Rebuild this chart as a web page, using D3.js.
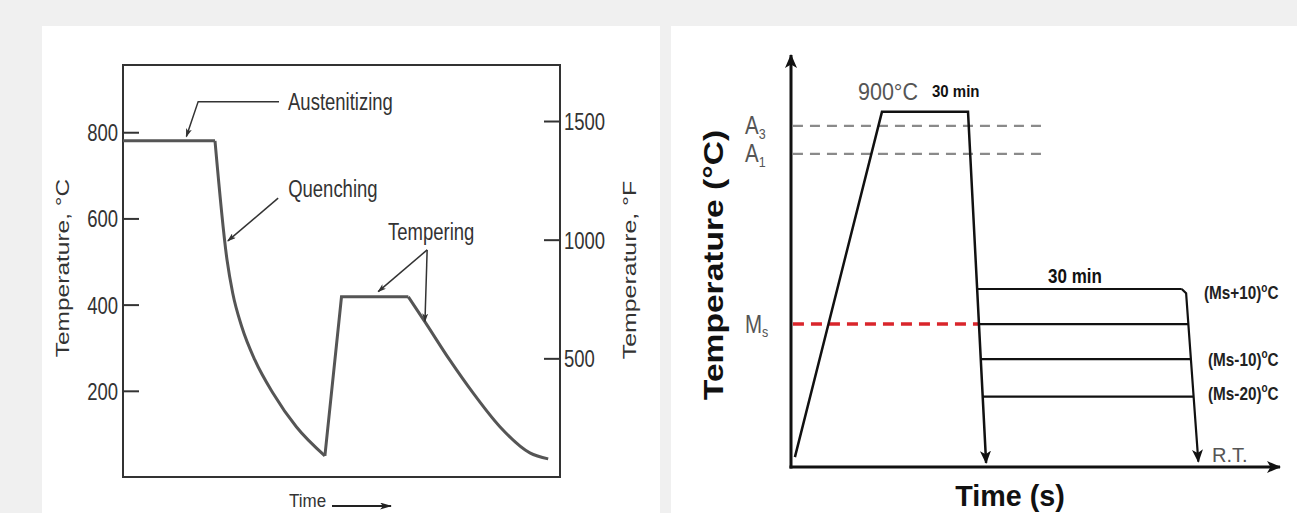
<!DOCTYPE html>
<html lang="en">
<head>
<meta charset="UTF-8">
<title>Heat treatment cycles</title>
<script src="https://cdn.jsdelivr.net/npm/d3@7"></script>
<style>
    body { margin: 0; background: #f0f0f0; overflow: hidden; }
    svg { display: block; }
    text { font-family: "Liberation Sans", Arial, sans-serif; }
</style>
</head>
<body>
<div id="chart-space"></div>

<script>
    // ---- left panel: quench + temper cycle (time in arbitrary units, temperature in °C)
    var tickC = [200, 400, 600, 800];
    var tickF = [500, 1000, 1500];
    var austHold = [[0, 780], [21.05, 780]];
    var quenchCool = [[21.05, 780], [23.8, 504], [25.1, 427], [27.2, 348], [30.2, 271], [34.3, 195], [39.7, 116], [46.2, 49]];
    var temperHold = [[46.2, 49], [50.0, 418], [65.3, 418]];
    var temperCool = [[65.3, 418], [69.1, 360], [74.8, 271], [80.1, 195], [86.3, 116], [93.1, 56], [97.3, 42]];

    // leader lines for the step labels (same data units)
    var ausLeader = [[35.7, 871], [17.2, 871], [14.5, 790]];
    var quenchLeader = [[35.5, 647], [24.0, 548]];
    var temperLeaders = [[[69.6, 527], [58.4, 430]], [[69.6, 527], [69.1, 361]]];

    // ---- right panel: quench into salt bath, schematic levels 0..100
    var critNames = ["A", "A", "M"];
    var critSubs = ["3", "1", "s"];
    var critLevel = [82.8, 76.0, 34.7];
    var heatCycle = [[0.8, 2.4], [18.6, 86.2], [36.2, 86.2], [39.9, 1.0]];
    var isoLevel = [43.2, 34.7, 26.2, 17.1];
    var isoText = ["(Ms+10)", "", "(Ms-10)", "(Ms-20)"];
    var finalCool = [[80.8, 42.2], [83.3, 1.3]];

    var W = 1297, H = 513;

    var svg = d3.select("#chart-space")
        .append("svg")
        .attr("width", W)
        .attr("height", H);

    svg.append("rect").attr("width", W).attr("height", H).attr("fill", "#f0f0f0");
    svg.append("rect").attr("x", 42).attr("y", 26).attr("width", 618).attr("height", 500).attr("fill", "#fff");
    svg.append("rect").attr("x", 671).attr("y", 26).attr("width", 626).attr("height", 500).attr("fill", "#fff");

    var defs = svg.append("defs");
    function marker(id, w, h, fill) {
        defs.append("marker")
            .attr("id", id)
            .attr("viewBox", "0 0 " + w + " " + h)
            .attr("refX", w - 1).attr("refY", h / 2)
            .attr("markerWidth", w).attr("markerHeight", h)
            .attr("markerUnits", "userSpaceOnUse")
            .attr("orient", "auto")
            .append("path")
            .attr("d", "M0,0L" + w + "," + h / 2 + "L0," + h + "L" + (w * 0.25) + "," + h / 2 + "Z")
            .attr("fill", fill);
    }
    marker("arrSmall", 9, 6, "#333");
    marker("arrTime", 12, 7, "#222");
    marker("arrAxis", 14, 12, "#111");
    marker("arrDown", 13, 11, "#111");

    // stretched text helper (the source picture is squeezed horizontally)
    function label(g, x, y, str, o) {
        var tr = "translate(" + x + "," + y + ")" + (o.rot ? " rotate(-90)" : "") +
            " scale(" + (o.sx || 1) + "," + (o.sy || 1) + ")";
        return g.append("text")
            .attr("transform", tr)
            .attr("font-size", o.size)
            .attr("font-weight", o.bold ? "bold" : null)
            .attr("fill", o.fill || "#333")
            .attr("text-anchor", o.anchor || "start")
            .text(str);
    }

    // ================= LEFT PANEL =================
    var left = svg.append("g");
    var xL = d3.scaleLinear().domain([0, 100]).range([123, 560]);
    var yC = d3.scaleLinear().domain([0, 956]).range([477, 65]);
    var yF = d3.scaleLinear().domain([0, 1736]).range([477, 65]);

    function styleAxis(g, sy) {
        g.select(".domain").remove();
        g.attr("font-family", null).attr("font-size", 18.5).attr("color", "#333");
        g.selectAll("line").attr("stroke-width", 2);
        g.selectAll("text").attr("dy", "0.36em").attr("transform", "scale(1," + sy + ")");
    }

    left.append("g")
        .attr("transform", "translate(" + xL(0) + ",0)")
        .call(d3.axisLeft(yC).tickValues(tickC).tickFormat(d3.format("d"))
            .tickSizeInner(-16).tickSizeOuter(0).tickPadding(5))
        .call(styleAxis, 1.27);

    left.append("g")
        .attr("transform", "translate(" + xL(100) + ",0)")
        .call(d3.axisRight(yF).tickValues(tickF).tickFormat(d3.format("d"))
            .tickSizeInner(-16).tickSizeOuter(0).tickPadding(4))
        .call(styleAxis, 1.27);

    left.append("rect")
        .attr("x", xL(0)).attr("y", yC(956))
        .attr("width", xL(100) - xL(0)).attr("height", yC(0) - yC(956))
        .attr("fill", "none").attr("stroke", "#333").attr("stroke-width", 2);

    var lineL = d3.line().x(function(d) { return xL(d[0]); }).y(function(d) { return yC(d[1]); });
    var curveL = d3.line().x(function(d) { return xL(d[0]); }).y(function(d) { return yC(d[1]); }).curve(d3.curveMonotoneX);

    [[austHold, lineL], [quenchCool, curveL], [temperHold, lineL], [temperCool, curveL]].forEach(function(s) {
        left.append("path")
            .attr("d", s[1](s[0]))
            .attr("fill", "none")
            .attr("stroke", "#555")
            .attr("stroke-width", 3)
            .attr("stroke-linejoin", "miter");
    });

    // leaders
    [ausLeader, quenchLeader, temperLeaders[0], temperLeaders[1]].forEach(function(l) {
        left.append("path")
            .attr("d", lineL(l))
            .attr("fill", "none")
            .attr("stroke", "#333")
            .attr("stroke-width", 1.5)
            .attr("marker-end", "url(#arrSmall)");
    });

    label(left, xL(ausLeader[0][0]) + 9, yC(ausLeader[0][1]) + 8.5, "Austenitizing", { size: 18.5, sy: 1.32 });
    label(left, xL(quenchLeader[0][0]) + 10, yC(quenchLeader[0][1]) - 1, "Quenching", { size: 18.5, sy: 1.32 });
    label(left, xL(temperLeaders[0][0][0]) + 4, yC(temperLeaders[0][0][1]) - 10, "Tempering", { size: 18.5, sy: 1.32, anchor: "middle" });

    label(left, 69, 268, "Temperature, °C", { size: 17.5, rot: true, sx: 1.4, anchor: "middle" });
    label(left, 636, 270, "Temperature, °F", { size: 17.5, rot: true, sx: 1.42, anchor: "middle" });

    label(left, 289, 507, "Time", { size: 17, sy: 1.05 });
    left.append("line")
        .attr("x1", 332).attr("x2", 391).attr("y1", 506).attr("y2", 506)
        .attr("stroke", "#222").attr("stroke-width", 2)
        .attr("marker-end", "url(#arrTime)");

    // ================= RIGHT PANEL =================
    var right = svg.append("g");
    var xR = d3.scaleLinear().domain([0, 100]).range([791, 1280]);
    var yR = d3.scaleLinear().domain([0, 100]).range([467, 55]);

    // x position on a straight segment at a given level
    function xAt(seg, lev) {
        var a = seg[0], b = seg[1];
        return a[0] + (b[0] - a[0]) * (lev - a[1]) / (b[1] - a[1]);
    }
    var quenchSeg = [heatCycle[2], heatCycle[3]];

    // critical temperature dashes
    critLevel.forEach(function(lev, i) {
        var isMs = critNames[i] === "M";
        right.append("line")
            .attr("x1", xR(0.4))
            .attr("x2", isMs ? xR(xAt(quenchSeg, lev)) : xR(52))
            .attr("y1", yR(lev)).attr("y2", yR(lev))
            .attr("stroke", isMs ? "#d9252b" : "#8a8a8a")
            .attr("stroke-width", isMs ? 3.5 : 2.2)
            .attr("stroke-dasharray", isMs ? "11,7" : "10,7");
        var t = right.append("text")
            .attr("transform", "translate(" + 745 + "," + (yR(lev) + 8.5) + ") scale(1,1.22)")
            .attr("font-size", 20.5)
            .attr("fill", "#555");
        t.append("tspan").text(critNames[i]);
        t.append("tspan").attr("font-size", 12.5).attr("dy", 4).text(critSubs[i]);
    });

    // axes with arrows
    right.append("line")
        .attr("x1", xR(0)).attr("x2", xR(0)).attr("y1", yR(0) + 1.5).attr("y2", yR(100))
        .attr("stroke", "#111").attr("stroke-width", 3)
        .attr("marker-end", "url(#arrAxis)");
    right.append("line")
        .attr("x1", xR(0) - 1.5).attr("x2", xR(100)).attr("y1", yR(0)).attr("y2", yR(0))
        .attr("stroke", "#111").attr("stroke-width", 3)
        .attr("marker-end", "url(#arrAxis)");

    var lineR = d3.line().x(function(d) { return xR(d[0]); }).y(function(d) { return yR(d[1]); });

    right.append("path")
        .attr("d", lineR(heatCycle))
        .attr("fill", "none").attr("stroke", "#111").attr("stroke-width", 2.5)
        .attr("stroke-linejoin", "miter")
        .attr("marker-end", "url(#arrDown)");

    // isothermal holds
    isoLevel.forEach(function(lev, i) {
        var pts = [[xAt(quenchSeg, lev), lev]];
        if (i === 0) {
            pts.push([finalCool[0][0] - 0.9, lev]);
        } else {
            pts.push([xAt(finalCool, lev), lev]);
        }
        right.append("path")
            .attr("d", lineR(pts))
            .attr("fill", "none").attr("stroke", "#111").attr("stroke-width", 2.2);
        if (isoText[i]) {
            var t = right.append("text")
                .attr("transform", "translate(" + (i === 0 ? 1204 : 1208) + "," + (yR(lev) + (i === 0 ? 10 : i === 3 ? 3 : 6.5)) + ") scale(1,1.22)")
                .attr("font-size", 15.3)
                .attr("font-weight", "bold")
                .attr("fill", "#222");
            t.append("tspan").text(isoText[i]);
            t.append("tspan").attr("font-size", 10).attr("dy", -6).text("o");
            t.append("tspan").attr("dy", 6).text("C");
        }
    });

    // final cooling from the salt bath
    right.append("path")
        .attr("d", lineR([[finalCool[0][0] - 0.9, isoLevel[0]], finalCool[0], finalCool[1]]))
        .attr("fill", "none").attr("stroke", "#111").attr("stroke-width", 2.2)
        .attr("marker-end", "url(#arrDown)");

    label(right, 858, 100, "900°C", { size: 21.5, sy: 1.1, fill: "#555" });
    label(right, 932, 97, "30 min", { size: 15, sy: 1.16, bold: true, fill: "#111" });
    label(right, 1075, 283, "30 min", { size: 17, sy: 1.2, bold: true, fill: "#111", anchor: "middle" });
    label(right, 1212, 461.5, "R.T.", { size: 20, sy: 1.05, fill: "#555" });

    label(right, 723, 265, "Temperature (°C)", { size: 28, rot: true, sx: 1.2, bold: true, fill: "#111", anchor: "middle" });
    label(right, 1010, 506, "Time (s)", { size: 28.7, sy: 1.0, bold: true, fill: "#111", anchor: "middle" });
</script>
</body>
</html>
